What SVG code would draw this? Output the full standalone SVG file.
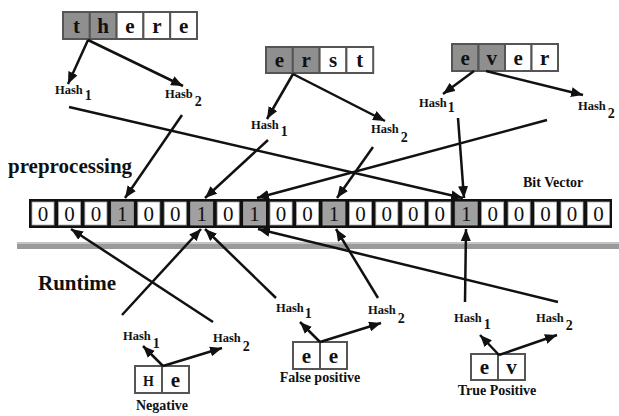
<svg xmlns="http://www.w3.org/2000/svg" width="619" height="416" viewBox="0 0 619 416">
  <defs>
    <marker id="arrow" markerUnits="userSpaceOnUse" markerWidth="13" markerHeight="10" refX="12" refY="5" orient="auto">
      <path d="M0,0 L12,5 L0,10 Z" fill="#111"/>
    </marker>
    <style>
      text { font-family: "Liberation Serif", "Times New Roman", serif; fill: #111; }
      .title { font-size: 21px; font-weight: bold; }
      .label { font-size: 14px; font-weight: bold; }
      .hash { font-size: 12.5px; font-weight: bold; }
      .sub { font-size: 14px; font-weight: bold; }
      .letter { font-size: 21px; font-weight: bold; text-anchor: middle; }
      .bit { font-size: 21px; text-anchor: middle; }
      .wcell { fill: #ffffff; stroke: #555; stroke-width: 2; }
      .wcell.on { fill: #8f8f8f; }
      .bcell { fill: #ffffff; stroke: #aaa; stroke-width: 0.8; }
      .bcell.on { fill: #a0a0a0; }
      .conn line { stroke: #111; stroke-width: 2.5; fill: none; }
      .conn .arr { marker-end: url(#arrow); }
    </style>
  </defs>

  <rect width="619" height="416" fill="#ffffff"/>

  <!-- section titles -->
  <text class="title" x="8" y="173">preprocessing</text>
  <text class="title" x="38" y="290">Runtime</text>
  <text class="label" x="523" y="187">Bit Vector</text>

  <!-- divider between preprocessing and runtime -->
  <rect x="17" y="242" width="602" height="7" fill="#9a9a9a"/>
  <rect x="17" y="242" width="602" height="2" fill="#c4c4c4"/>

  <!-- bit vector -->
  <g id="bit-vector">
    <rect x="29" y="199" width="583" height="29" fill="#111"/>
    <g id="bits">
      <rect class="bcell" x="32" y="202" width="22" height="23"/>
      <rect class="bcell" x="58.45" y="202" width="22" height="23"/>
      <rect class="bcell" x="84.9" y="202" width="22" height="23"/>
      <rect class="bcell on" x="111.35" y="202" width="22" height="23"/>
      <rect class="bcell" x="137.8" y="202" width="22" height="23"/>
      <rect class="bcell" x="164.25" y="202" width="22" height="23"/>
      <rect class="bcell on" x="190.7" y="202" width="22" height="23"/>
      <rect class="bcell" x="217.15" y="202" width="22" height="23"/>
      <rect class="bcell on" x="243.6" y="202" width="22" height="23"/>
      <rect class="bcell" x="270.05" y="202" width="22" height="23"/>
      <rect class="bcell" x="296.5" y="202" width="22" height="23"/>
      <rect class="bcell on" x="322.95" y="202" width="22" height="23"/>
      <rect class="bcell" x="349.4" y="202" width="22" height="23"/>
      <rect class="bcell" x="375.85" y="202" width="22" height="23"/>
      <rect class="bcell" x="402.3" y="202" width="22" height="23"/>
      <rect class="bcell" x="428.75" y="202" width="22" height="23"/>
      <rect class="bcell on" x="455.2" y="202" width="22" height="23"/>
      <rect class="bcell" x="481.65" y="202" width="22" height="23"/>
      <rect class="bcell" x="508.1" y="202" width="22" height="23"/>
      <rect class="bcell" x="534.55" y="202" width="22" height="23"/>
      <rect class="bcell" x="561" y="202" width="22" height="23"/>
      <rect class="bcell" x="587.45" y="202" width="22" height="23"/>
    </g>
    <g id="bit-values">
      <text class="bit" x="43" y="221">0</text>
      <text class="bit" x="69.45" y="221">0</text>
      <text class="bit" x="95.9" y="221">0</text>
      <text class="bit" x="122.35" y="221">1</text>
      <text class="bit" x="148.8" y="221">0</text>
      <text class="bit" x="175.25" y="221">0</text>
      <text class="bit" x="201.7" y="221">1</text>
      <text class="bit" x="228.15" y="221">0</text>
      <text class="bit" x="254.6" y="221">1</text>
      <text class="bit" x="281.05" y="221">0</text>
      <text class="bit" x="307.5" y="221">0</text>
      <text class="bit" x="333.95" y="221">1</text>
      <text class="bit" x="360.4" y="221">0</text>
      <text class="bit" x="386.85" y="221">0</text>
      <text class="bit" x="413.3" y="221">0</text>
      <text class="bit" x="439.75" y="221">0</text>
      <text class="bit" x="466.2" y="221">1</text>
      <text class="bit" x="492.65" y="221">0</text>
      <text class="bit" x="519.1" y="221">0</text>
      <text class="bit" x="545.55" y="221">0</text>
      <text class="bit" x="572" y="221">0</text>
      <text class="bit" x="598.45" y="221">0</text>
    </g>
  </g>

  <!-- preprocessing words -->
  <g id="word-there">
    <rect class="wcell on" x="63" y="12" width="26.8" height="27"/>
    <rect class="wcell on" x="89.8" y="12" width="26.8" height="27"/>
    <rect class="wcell" x="116.6" y="12" width="26.8" height="27"/>
    <rect class="wcell" x="143.4" y="12" width="26.8" height="27"/>
    <rect class="wcell" x="170.2" y="12" width="26.8" height="27"/>
    <text class="letter" x="76.4" y="33">t</text>
    <text class="letter" x="103.2" y="33">h</text>
    <text class="letter" x="130" y="33">e</text>
    <text class="letter" x="156.8" y="33">r</text>
    <text class="letter" x="183.6" y="33">e</text>
  </g>
  <g id="word-erst">
    <rect class="wcell on" x="266" y="47" width="26.8" height="26"/>
    <rect class="wcell on" x="292.8" y="47" width="26.8" height="26"/>
    <rect class="wcell" x="319.6" y="47" width="26.8" height="26"/>
    <rect class="wcell" x="346.4" y="47" width="26.8" height="26"/>
    <text class="letter" x="279.4" y="67">e</text>
    <text class="letter" x="306.2" y="67">r</text>
    <text class="letter" x="333" y="67">s</text>
    <text class="letter" x="359.8" y="67">t</text>
  </g>
  <g id="word-ever">
    <rect class="wcell on" x="452" y="44" width="26.5" height="27"/>
    <rect class="wcell on" x="478.5" y="44" width="26.5" height="27"/>
    <rect class="wcell" x="505" y="44" width="26.5" height="27"/>
    <rect class="wcell" x="531.5" y="44" width="26.5" height="27"/>
    <text class="letter" x="465.25" y="65">e</text>
    <text class="letter" x="491.75" y="65">v</text>
    <text class="letter" x="518.25" y="65">e</text>
    <text class="letter" x="544.75" y="65">r</text>
  </g>

  <!-- hash labels, preprocessing -->
  <g id="there-hash1"><text class="hash" x="55" y="94">Hash<tspan class="sub" dx="2" dy="6">1</tspan></text></g>
  <g id="there-hash2"><text class="hash" x="165" y="98">Hasb<tspan class="sub" dx="2" dy="8">2</tspan></text></g>
  <g id="erst-hash1"><text class="hash" x="251" y="129">Hash<tspan class="sub" dx="2" dy="7">1</tspan></text></g>
  <g id="erst-hash2"><text class="hash" x="371" y="133">Hash<tspan class="sub" dx="2" dy="9">2</tspan></text></g>
  <g id="ever-hash1"><text class="hash" x="419" y="107">Hash<tspan class="sub" dx="1" dy="5">1</tspan></text></g>
  <g id="ever-hash2"><text class="hash" x="578" y="110">Hash<tspan class="sub" dx="2" dy="8">2</tspan></text></g>

  <!-- runtime queries -->
  <g id="query-negative">
    <rect class="wcell" x="135" y="366" width="27" height="27"/>
    <rect class="wcell" x="162" y="366" width="27" height="27"/>
    <text class="letter" x="148.5" y="386" style="font-size:14px">H</text>
    <text class="letter" x="175.5" y="387">e</text>
    <text class="label" x="162" y="410" text-anchor="middle">Negative</text>
  </g>
  <g id="query-false-positive">
    <rect class="wcell" x="293" y="342" width="27" height="27"/>
    <rect class="wcell" x="320" y="342" width="27" height="27"/>
    <text class="letter" x="306.5" y="363">e</text>
    <text class="letter" x="333.5" y="363">e</text>
    <text class="label" x="320" y="382" text-anchor="middle">False positive</text>
  </g>
  <g id="query-true-positive">
    <rect class="wcell" x="471" y="354" width="27" height="26"/>
    <rect class="wcell" x="498" y="354" width="27" height="26"/>
    <text class="letter" x="484.5" y="374">e</text>
    <text class="letter" x="511.5" y="374">v</text>
    <text class="label" x="497" y="395" text-anchor="middle">True Positive</text>
  </g>

  <!-- hash labels, runtime -->
  <g id="neg-hash1"><text class="hash" x="123" y="340">Hash<tspan class="sub" dx="2" dy="8">1</tspan></text></g>
  <g id="neg-hash2"><text class="hash" x="213" y="342">Hash<tspan class="sub" dx="2" dy="9">2</tspan></text></g>
  <g id="fp-hash1"><text class="hash" x="276" y="312">Hash<tspan class="sub" dx="1" dy="6">1</tspan></text></g>
  <g id="fp-hash2"><text class="hash" x="368" y="314">Hash<tspan class="sub" dx="2" dy="9">2</tspan></text></g>
  <g id="tp-hash1"><text class="hash" x="454" y="322">Hash<tspan class="sub" dx="2" dy="7">1</tspan></text></g>
  <g id="tp-hash2"><text class="hash" x="536" y="322">Hash<tspan class="sub" dx="2" dy="8">2</tspan></text></g>

  <!-- connectors -->
  <g id="connectors" class="conn">
    <!-- words to hash functions -->
    <line class="arr" x1="88" y1="40" x2="68" y2="84"/>
    <line class="arr" x1="88" y1="40" x2="183" y2="86"/>
    <line class="arr" x1="293" y1="74" x2="267" y2="119"/>
    <line class="arr" x1="293" y1="74" x2="385" y2="121"/>
    <line class="arr" x1="474" y1="71" x2="443" y2="94"/>
    <line class="arr" x1="486" y1="71" x2="583" y2="95"/>
    <!-- hash functions to bit vector (set bits) -->
    <line class="arr" x1="69" y1="107" x2="463" y2="198"/>
    <line class="arr" x1="182" y1="115" x2="125" y2="198"/>
    <line class="arr" x1="268" y1="140" x2="205" y2="198"/>
    <line class="arr" x1="373" y1="147" x2="337" y2="198"/>
    <line class="arr" x1="458" y1="118" x2="464" y2="198"/>
    <line class="arr" x1="547" y1="120" x2="257" y2="198"/>
    <!-- queries to hash functions -->
    <line class="arr" x1="163" y1="366" x2="143" y2="346"/>
    <line class="arr" x1="163" y1="366" x2="222" y2="348"/>
    <line class="arr" x1="320" y1="342" x2="300" y2="322"/>
    <line class="arr" x1="320" y1="342" x2="381" y2="323"/>
    <line class="arr" x1="499" y1="355" x2="480" y2="335"/>
    <line class="arr" x1="499" y1="355" x2="557" y2="335"/>
    <!-- hash functions to bit vector (lookups) -->
    <line class="arr" x1="122" y1="315" x2="201" y2="229"/>
    <line class="arr" x1="213" y1="322" x2="71" y2="229"/>
    <line class="arr" x1="276" y1="298" x2="205" y2="229"/>
    <line class="arr" x1="378" y1="298" x2="336" y2="229"/>
    <line class="arr" x1="465" y1="302" x2="466" y2="229"/>
    <line class="arr" x1="558" y1="302" x2="258" y2="229"/>
  </g>
</svg>
